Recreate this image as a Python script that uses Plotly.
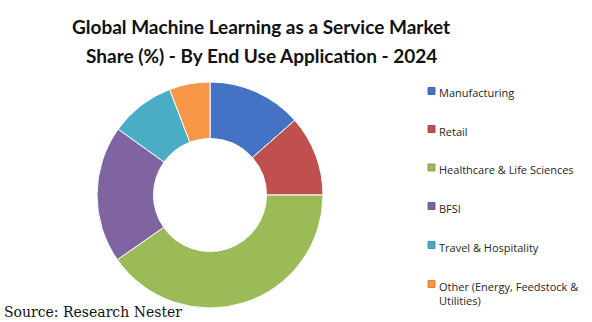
import plotly.graph_objects as go

labels = ["Manufacturing", "Retail", "Healthcare & Life Sciences", "BFSI",
          "Travel & Hospitality", "Other (Energy, Feedstock & Utilities)"]
legend_text = ["Manufacturing", "Retail", "Healthcare & Life Sciences", "BFSI",
               "Travel & Hospitality", "Other (Energy, Feedstock &<br>Utilities)"]
values = [13.5, 11.5, 40.3, 19.6, 9.3, 5.8]
title_lines = ["Global Machine Learning as a Service Market",
               "Share (%) - By End Use Application - 2024"]
colors = ["#4472C4", "#C0504D", "#9BBB59", "#8064A2", "#4BACC6", "#F79646"]
edge = ["#2F5597", "#943634", "#76923C", "#5F497A", "#31849B", "#E36C09"]

W, H = 592, 322
cx, cy, r = 210, 195, 113

fig = go.Figure()
fig.add_trace(go.Pie(
    labels=labels, values=values, hole=0.5, sort=False, direction="clockwise",
    rotation=0, textinfo="none", hoverinfo="label+percent", showlegend=False,
    marker=dict(colors=colors, line=dict(color="#FFFFFF", width=1)),
    domain=dict(x=[(cx - r) / W, (cx + r) / W], y=[(H - cy - r) / H, (H - cy + r) / H]),
))

shapes = []
annotations = []
leg_y = [91, 129, 167.5, 206, 245, 284]
for i, txt in enumerate(legend_text):
    y = leg_y[i]
    shapes.append(dict(type="rect", xref="paper", yref="paper",
                       x0=428 / W, x1=435 / W, y0=(H - y - 3.5) / H, y1=(H - y + 3.5) / H,
                       fillcolor=colors[i], line=dict(color=edge[i], width=0.8)))
    annotations.append(dict(x=437 / W, y=(H - y + 7.5) / H, xref="paper", yref="paper",
                            xanchor="left", yanchor="top", align="left", showarrow=False,
                            text=txt, font=dict(family="Open Sans", size=11, color="#262626")))

for j, (line, ty) in enumerate(zip(title_lines, [26, 55])):
    annotations.append(dict(x=261 / W, y=(H - ty) / H, xref="paper", yref="paper",
                            xanchor="center", yanchor="middle", showarrow=False,
                            text="<b>" + line + "</b>",
                            font=dict(family="Lato", size=19, color="#111111")))
annotations.append(dict(x=2 / W, y=0, xref="paper", yref="paper", xanchor="left",
                        yanchor="bottom", showarrow=False, text="Source: Research Nester",
                        font=dict(family="DejaVu Serif", size=14, color="#111111")))

fig.update_layout(width=W, height=H, margin=dict(l=0, r=0, t=0, b=0),
                  paper_bgcolor="white", plot_bgcolor="white",
                  shapes=shapes, annotations=annotations)
fig.write_html("out.html")
